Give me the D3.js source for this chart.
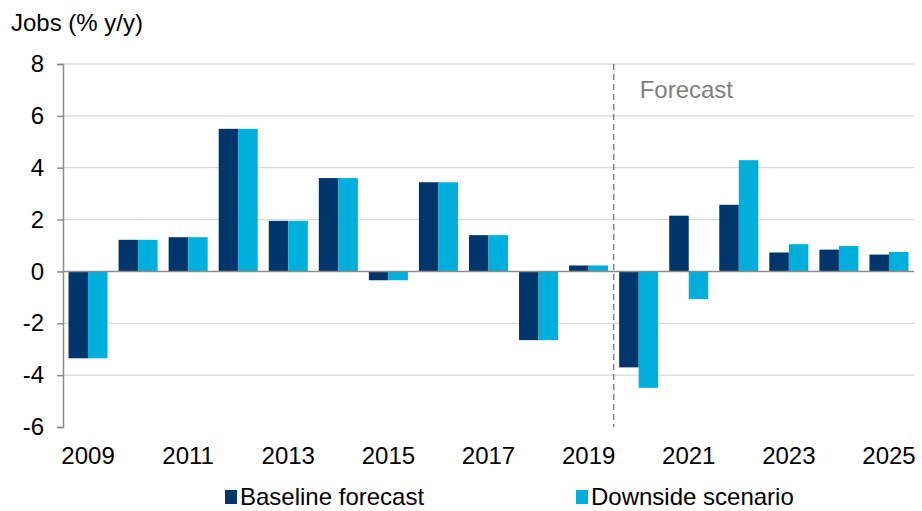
<!DOCTYPE html>
<meta charset="utf-8">
<style>
  body { margin: 0; background: #fff; font-family: "Liberation Sans", Arial, sans-serif; }
  .grid line { stroke: #d9d9d9; stroke-width: 1.3px; }
  .tick text { font-size: 24px; fill: #000; font-family: "Liberation Sans", Arial, sans-serif; }
</style>
<svg width="922" height="511"></svg>
<script src="https://d3js.org/d3.v7.min.js"></script>
<script>
// data
var years = ["2009","2010","2011","2012","2013","2014","2015","2016","2017",
             "2018","2019","2020","2021","2022","2023","2024","2025"];
var baseline = [-3.35, 1.22, 1.32, 5.5, 1.95, 3.6, -0.34, 3.44, 1.4,
                -2.65, 0.23, -3.7, 2.15, 2.57, 0.73, 0.84, 0.65];
var downside = [-3.35, 1.22, 1.32, 5.5, 1.95, 3.6, -0.34, 3.44, 1.4,
                -2.65, 0.23, -4.49, -1.07, 4.29, 1.05, 0.98, 0.75];
var seriesNames = ["Baseline forecast", "Downside scenario"];
var colors = ["#00366b", "#00afdb"];
var yTicks = [-6, -4, -2, 0, 2, 4, 6, 8];
var forecastStart = "2020";

var svg = d3.select("svg"),
    margin = { top: 64, right: 8, bottom: 84, left: 63 },
    width = +svg.attr("width") - margin.left - margin.right,
    height = +svg.attr("height") - margin.top - margin.bottom,
    g = svg.append("g").attr("transform", "translate(" + margin.left + "," + margin.top + ")");

var x = d3.scaleBand()
    .domain(years)
    .range([0, width])
    .paddingInner(0.22)
    .paddingOuter(0.11);

var xs = d3.scaleBand()
    .domain([0, 1])
    .range([0, x.bandwidth()]);

var y = d3.scaleLinear()
    .domain([-6, 8])
    .range([height, 0]);

// gridlines
g.append("g")
    .attr("class", "grid")
    .selectAll("line")
    .data(yTicks.filter(function (d) { return d != -6 && d != 0; }))
    .enter().append("line")
    .attr("x1", 0)
    .attr("x2", width)
    .attr("y1", function (d) { return y(d); })
    .attr("y2", function (d) { return y(d); });

// bars
var rows = years.map(function (yr, i) { return { year: yr, vals: [baseline[i], downside[i]] }; });

g.append("g")
    .selectAll("g")
    .data(rows)
    .enter().append("g")
    .attr("transform", function (d) { return "translate(" + x(d.year) + ",0)"; })
    .selectAll("rect")
    .data(function (d) { return d.vals; })
    .enter().append("rect")
    .attr("x", function (d, i) { return xs(i); })
    .attr("width", xs.bandwidth())
    .attr("y", function (d) { return y(Math.max(0, d)); })
    .attr("height", function (d) { return Math.abs(y(d) - y(0)); })
    .attr("fill", function (d, i) { return colors[i]; });

// zero line
g.append("line")
    .attr("x1", 0).attr("x2", width)
    .attr("y1", y(0)).attr("y2", y(0))
    .attr("stroke", "#8c8c8c")
    .attr("stroke-width", 1.5);

// y axis
var yAxis = g.append("g")
    .call(d3.axisLeft(y).tickValues(yTicks).tickSize(6).tickPadding(13)
        .tickFormat(function (d) { return String(d); }));
yAxis.select(".domain").attr("stroke", "#8c8c8c").attr("stroke-width", 1.5);
yAxis.selectAll(".tick line").attr("stroke", "#8c8c8c").attr("stroke-width", 1.5);

// x axis labels (odd years only)
var xAxis = g.append("g")
    .attr("transform", "translate(0," + height + ")")
    .call(d3.axisBottom(x)
        .tickValues(years.filter(function (d) { return (+d) % 2 == 1; }))
        .tickSize(0).tickPadding(20));
xAxis.select(".domain").remove();

// forecast divider
var xf = x(forecastStart) - x.step() * x.paddingInner() / 2;
g.append("line")
    .attr("x1", xf).attr("x2", xf)
    .attr("y1", 0).attr("y2", height)
    .attr("stroke", "#808080")
    .attr("stroke-width", 1.5)
    .attr("stroke-dasharray", "6,4");

g.append("text")
    .attr("x", xf + 26)
    .attr("y", 34)
    .attr("fill", "#808080")
    .style("font-size", "24px")
    .text("Forecast");

// title
svg.append("text")
    .attr("x", 11)
    .attr("y", 31)
    .style("font-size", "24px")
    .text("Jobs (% y/y)");

// legend
var legendX = [225, 576];
var legend = svg.append("g").selectAll("g")
    .data(seriesNames)
    .enter().append("g")
    .attr("transform", function (d, i) { return "translate(" + legendX[i] + ",490)"; });
legend.append("rect")
    .attr("width", 12).attr("height", 14)
    .attr("fill", function (d, i) { return colors[i]; });
legend.append("text")
    .attr("x", 15)
    .attr("y", 15)
    .style("font-size", "24px")
    .text(function (d) { return d; });
</script>
